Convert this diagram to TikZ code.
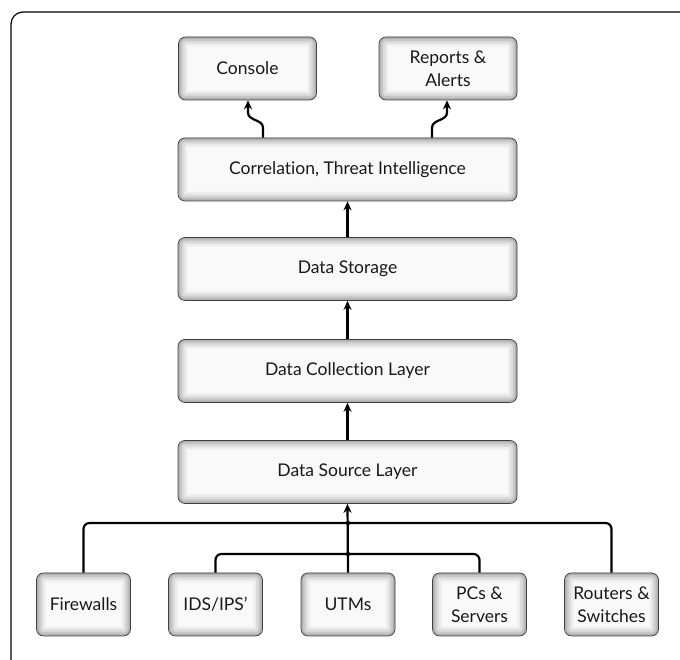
\documentclass[tikz,border=0pt]{standalone}
\usepackage{fontspec}
\setmainfont{Lato}[Ligatures=NoCommon]
\usetikzlibrary{arrows.meta}

\tikzset{
  layerbox/.style={draw=gray!50!black, line width=0.7pt, rounded corners=7pt,
    fill=gray!5, inner sep=0pt, minimum height=63pt, align=center,
    text=black!90, font=\fontsize{17.5}{23}\selectfont,
    path picture={
      \foreach \w/\c in {18/14,13/28,8/44,4/62}{
        \draw[line width=\w pt, gray!\c, rounded corners=7pt]
          (path picture bounding box.south west) rectangle (path picture bounding box.north east);}
    }},
  widebox/.style={layerbox, minimum width=339pt},
  topbox/.style={layerbox, minimum width=138pt},
  srcbox/.style={layerbox, minimum width=94pt},
  flow/.style={line width=2.2pt, -{Stealth[length=9pt,width=8pt]}},
  bus/.style={line width=2.2pt, rounded corners=6pt},
}

\begin{document}
\begin{tikzpicture}[x=1pt,y=1pt]
  \useasboundingbox (0,0) rectangle (680,660);
  \clip (0,0) rectangle (680,660);
  % outer frame
  \draw[line width=1.2pt, rounded corners=12pt] (11,-30) rectangle (720,648);

  % layers
  \node[topbox] (console) at (247.5,591.5) {Console};
  \node[topbox] (reports) at (448,591.5) {Reports \&\\Alerts};
  \node[widebox] (corr) at (347.5,490.5) {Correlation, Threat Intelligence};
  \node[widebox] (store) at (347.5,391) {Data Storage};
  \node[widebox] (coll) at (347.5,289) {Data Collection Layer};
  \node[widebox] (src) at (347.5,188) {Data Source Layer};

  % sources
  \node[srcbox] (fw) at (83.5,55.5) {Firewalls};
  \node[srcbox] (ids) at (215.5,55.5) {IDS/IPS'};
  \node[srcbox] (utm) at (348,55.5) {UTMs};
  \node[srcbox] (pcs) at (479.5,55.5) {PCs \&\\Servers};
  \node[srcbox] (rt) at (611.5,55.5) {Routers \&\\Switches};

  \coordinate (topbus) at (348,137);
  \coordinate (lowbus) at (348,106);

  % connectors
  \draw[bus] (fw.north) |- (topbus) -| (rt.north);
  \draw[bus] (ids.north) |- (lowbus) -| (pcs.north);
  \fill (topbus) circle (2.2pt);
  \fill (lowbus) circle (2.2pt);
  \draw[flow] (utm.north) -- (src.south);
  \draw[flow] (src.north) -- (coll.south);
  \draw[flow] (coll.north) -- (store.south);
  \draw[flow] (store.north) -- (corr.south);
  \draw[flow] ([xshift=-84.5pt]corr.north) -- ++(0,10) to[out=90,in=-90] ++(-15,15) -- (console.south -| 248,0);
  \draw[flow] ([xshift=84.5pt]corr.north) -- ++(0,10) to[out=90,in=-90] ++(15,15) -- (reports.south -| 447,0);
\end{tikzpicture}
\end{document}
